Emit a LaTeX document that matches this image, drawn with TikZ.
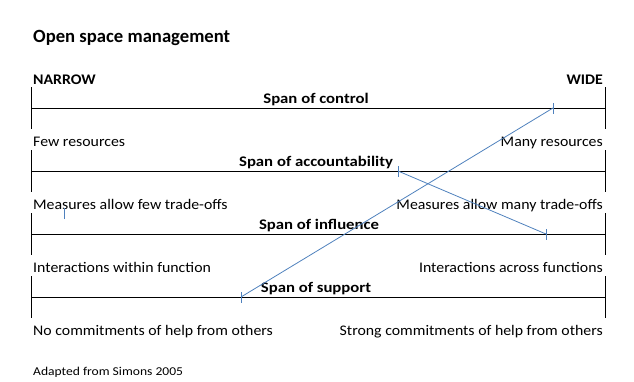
\documentclass[tikz,border=0pt]{standalone}
\usepackage{fontspec}
\setmainfont{Carlito}
\newfontfamily\bodyfont[FakeStretch=1.08]{Carlito}
\newfontfamily\capsfont[FakeStretch=1.08]{Carlito Bold}
\newfontfamily\spanfont[FakeStretch=1.14]{Carlito Bold}
\newfontfamily\smallfont[FakeStretch=1.13]{Carlito}
\definecolor{officeblue}{RGB}{79,129,189}
\begin{document}
\begin{tikzpicture}[x=1pt,y=-1pt,
  txt/.style={inner sep=0pt,font=\fontsize{14.67}{16}\bodyfont},
  ctxt/.style={inner sep=0pt,font=\fontsize{14.67}{16}\capsfont},
  btxt/.style={inner sep=0pt,font=\fontsize{14.67}{16}\spanfont},
  scale line/.style={draw=black,line width=0.9pt},
  blueline/.style={draw=officeblue,line width=0.8pt},
  tickmark/.style={draw=officeblue,line width=0.8pt}]
\useasboundingbox (0,0) rectangle (634,381);
\node[anchor=base west,inner sep=0pt,font=\fontsize{18.67}{20}\selectfont\bfseries] (title) at (33,42) {Open space management};
\node[ctxt,anchor=base west] (narrow) at (33,84) {NARROW};
\node[ctxt,anchor=base east] (wide) at (603,84) {WIDE};
% scales
\foreach \n/\y in {1/108,2/171,3/234,4/297}{
  \draw[scale line] (31,\y-21) coordinate (l\n a) -- (31,\y+21);
  \draw[scale line] (605,\y-21) -- (605,\y+21);
  \draw[scale line] (31,\y) coordinate (l\n) -- (605,\y) coordinate (r\n);
}
\node[btxt,anchor=base] (s1) at (316,103) {Span of control};
\node[btxt,anchor=base] (s2) at (316,166) {Span of accountability};
\node[btxt,anchor=base] (s3) at (319,229) {Span of influence};
\node[btxt,anchor=base] (s4) at (316,292) {Span of support};
\node[txt,anchor=base west] (a1) at (33,146) {Few resources};
\node[txt,anchor=base east] (b1) at (603,146) {Many resources};
\node[txt,anchor=base west] (a2) at (33,209) {Measures allow few trade-offs};
\node[txt,anchor=base east] (b2) at (603,209) {Measures allow many trade-offs};
\node[txt,anchor=base west] (a3) at (33,272) {Interactions within function};
\node[txt,anchor=base east] (b3) at (603,272) {Interactions across functions};
\node[txt,anchor=base west] (a4) at (33,335) {No commitments of help from others};
\node[txt,anchor=base east] (b4) at (603,335) {Strong commitments of help from others};
\node[anchor=base west,inner sep=0pt,font=\fontsize{12}{14}\smallfont] (src) at (33,375) {Adapted from Simons 2005};
% ticks
\coordinate (t1) at (553,108);
\coordinate (t2) at (398,171);
\coordinate (t3) at (546,234);
\coordinate (t4) at (241,297);
\coordinate (t0) at (64,213.5);
\foreach \t in {t0,t1,t2,t3,t4}{
  \draw[tickmark] ([yshift=-5.5pt]\t) -- ([yshift=5.5pt]\t);
}
\draw[blueline] (t1) -- (t4);
\draw[blueline] (t2) -- (t3);
\end{tikzpicture}
\end{document}
